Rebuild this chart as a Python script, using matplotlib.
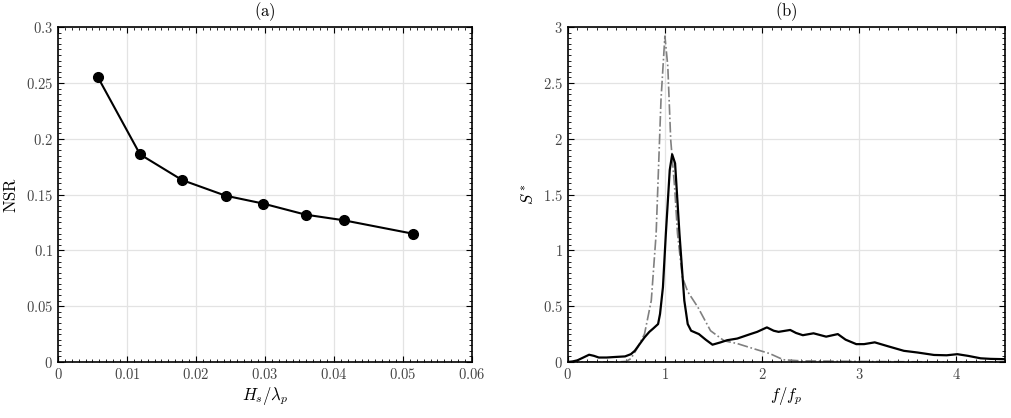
import numpy as np
import matplotlib
matplotlib.use("Agg")
import matplotlib.pyplot as plt
from matplotlib.ticker import AutoMinorLocator, FuncFormatter, MultipleLocator

plt.rcParams['mathtext.fontset'] = 'cm'
plt.rcParams['font.family'] = 'serif'
plt.rcParams['font.serif'] = ['DejaVu Serif']

# (a) noise-to-signal ratio vs steepness
steepness = [0.0058, 0.0119, 0.0180, 0.0243, 0.0297, 0.0359, 0.0414, 0.0514]
nsr = [0.255, 0.186, 0.163, 0.149, 0.142, 0.132, 0.127, 0.115]

# (b) measured spectrum (solid)
f_meas = [0.0, 0.05, 0.1, 0.16, 0.22, 0.27, 0.32, 0.4, 0.49, 0.59, 0.65, 0.69, 0.74,
          0.79, 0.84, 0.88, 0.93, 0.95, 0.98, 1.01, 1.05, 1.075, 1.105, 1.15, 1.2,
          1.235, 1.27, 1.35, 1.42, 1.49, 1.57, 1.64, 1.745, 1.88, 1.95, 2.05, 2.12,
          2.17, 2.29, 2.35, 2.42, 2.53, 2.66, 2.78, 2.86, 2.97, 3.05, 3.16, 3.3,
          3.46, 3.6, 3.77, 3.9, 4.01, 4.12, 4.25, 4.35, 4.5]
s_meas = [0.0, 0.005, 0.015, 0.04, 0.065, 0.055, 0.04, 0.04, 0.045, 0.05, 0.07, 0.1, 0.16,
          0.22, 0.27, 0.30, 0.34, 0.43, 0.67, 1.15, 1.72, 1.86, 1.78, 1.15, 0.55,
          0.34, 0.28, 0.25, 0.2, 0.155, 0.175, 0.195, 0.21, 0.25, 0.27, 0.31, 0.28,
          0.27, 0.287, 0.26, 0.24, 0.257, 0.227, 0.25, 0.2, 0.16, 0.16, 0.176, 0.14,
          0.10, 0.085, 0.063, 0.06, 0.07, 0.055, 0.033, 0.028, 0.025]

# (b) reference spectrum (dash-dot)
f_ref = [0.0, 0.3, 0.5, 0.6, 0.65, 0.72, 0.79, 0.86, 0.91, 0.96, 1.0, 1.03, 1.06,
         1.1, 1.13, 1.18, 1.235, 1.34, 1.47, 1.61, 1.745, 1.91, 2.08, 2.22, 2.4,
         3.0, 3.5, 4.5]
s_ref = [0.0, 0.0, 0.0, 0.005, 0.03, 0.13, 0.25, 0.55, 1.15, 2.35, 2.92, 2.65, 1.99,
         1.57, 1.15, 0.76, 0.63, 0.49, 0.28, 0.19, 0.165, 0.12, 0.075, 0.02, 0.01,
         0.005, 0.002, 0.0]


def tex_fmt(v, pos):
    s = ('%.3f' % v).rstrip('0').rstrip('.')
    return r'$%s$' % s


fig = plt.figure(figsize=(10.12, 4.18), dpi=100)
ax1 = fig.add_axes([0.0573, 0.134, 0.409, 0.801])
ax2 = fig.add_axes([0.561, 0.134, 0.432, 0.801])

ax1.plot(steepness, nsr, '-o', color='black', lw=1.5, ms=7)
ax1.set_xlim(0, 0.06)
ax1.set_ylim(0, 0.3)
ax1.xaxis.set_major_locator(MultipleLocator(0.01))
ax1.yaxis.set_major_locator(MultipleLocator(0.05))
ax1.set_xlabel(r'$H_s/\lambda_p$', fontsize=12, labelpad=2)
ax1.set_ylabel(r'$\mathrm{NSR}$', fontsize=12, labelpad=4)
ax1.set_title(r'$\mathrm{(a)}$', fontsize=12, pad=8)

ax2.plot(f_ref, s_ref, '-.', color='#808080', lw=1.2)
ax2.plot(f_meas, s_meas, '-', color='black', lw=1.6)
ax2.set_xlim(0, 4.5)
ax2.set_ylim(0, 3)
ax2.xaxis.set_major_locator(MultipleLocator(1))
ax2.yaxis.set_major_locator(MultipleLocator(0.5))
ax2.set_xlabel(r'$f/f_p$', fontsize=12, labelpad=2)
ax2.set_ylabel(r'$S^*$', fontsize=12, labelpad=4)
ax2.set_title(r'$\mathrm{(b)}$', fontsize=12, pad=8)

for ax in (ax1, ax2):
    ax.xaxis.set_minor_locator(AutoMinorLocator(10))
    ax.yaxis.set_minor_locator(AutoMinorLocator(10))
    ax.xaxis.set_major_formatter(FuncFormatter(tex_fmt))
    ax.yaxis.set_major_formatter(FuncFormatter(tex_fmt))
    ax.tick_params(which='both', direction='in', top=True, right=True, labelsize=10.5, colors='#444444')
    ax.tick_params(which='major', length=4, color='black')
    ax.tick_params(which='minor', length=2, color='black')
    ax.grid(True, which='major', color='#e3e3e3', lw=0.9)
    ax.set_axisbelow(True)
    for sp in ax.spines.values():
        sp.set_linewidth(1.2)

plt.savefig('out.png', dpi=100)
